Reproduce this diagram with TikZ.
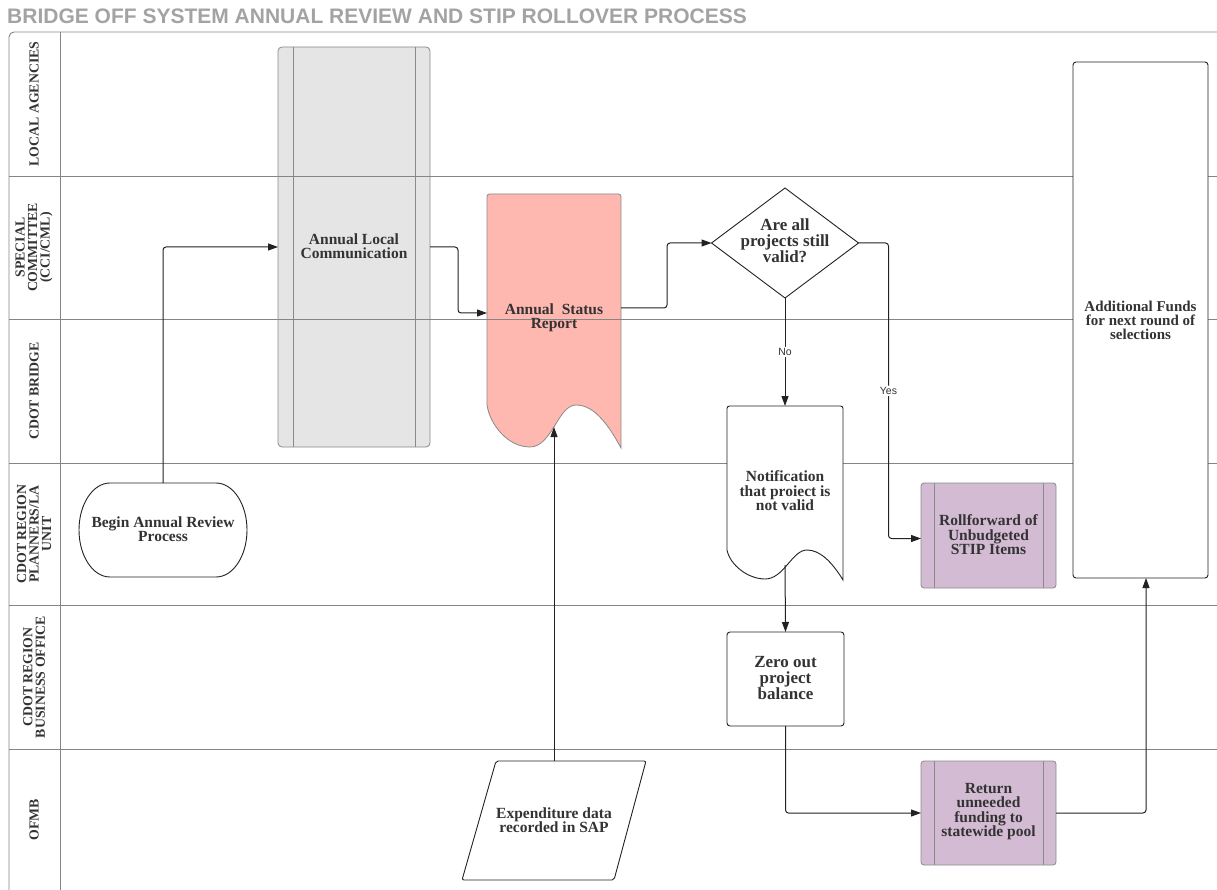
\documentclass[tikz,border=0pt]{standalone}
\usepackage{fontspec}
\setmainfont{Liberation Serif}
\newfontfamily\sansf{Liberation Sans}
\usetikzlibrary{arrows.meta,calc}
\definecolor{lanec}{HTML}{858585}
\definecolor{txt}{HTML}{333333}
\definecolor{grayfill}{HTML}{E5E5E5}
\definecolor{pinkfill}{HTML}{FEB8B0}
\definecolor{purplefill}{HTML}{D3BCD3}
\definecolor{titlec}{HTML}{A3A3A3}
\definecolor{linec}{HTML}{222222}
\definecolor{shapec}{HTML}{8A8A8A}
\begin{document}
\begin{tikzpicture}[x=1pt,y=-1pt,
  lane/.style={draw=lanec,line width=0.9pt},
  lanelbl/.style={rotate=90,align=center,font=\fontsize{13.8}{12.5}\selectfont\bfseries,text=txt,inner sep=0},
  ntext/.style={align=center,font=\fontsize{15.5}{14.5}\selectfont\bfseries,text=txt,inner sep=0},
  ntextbig/.style={align=center,font=\fontsize{17}{16}\selectfont\bfseries,text=txt,inner sep=0},
  box/.style={rectangle,inner sep=0,outer sep=0},
  conn/.style={draw=linec,line width=1pt,rounded corners=3pt,-{Triangle[length=10pt,width=7pt]}},
  lbl/.style={fill=white,font=\sansf\fontsize{10.5}{10.5}\selectfont,text=txt,inner sep=1.5pt},
  grayline/.style={draw=shapec,line width=0.8pt},
  darkline/.style={draw=linec,line width=0.9pt},
]
\useasboundingbox (0,0) rectangle (1217,890);
% title
\node[anchor=west,font=\sansf\bfseries\fontsize{21}{21}\selectfont,text=titlec,inner sep=0] (title) at (7,16) {BRIDGE OFF SYSTEM ANNUAL REVIEW AND STIP ROLLOVER PROCESS};

% shapes lying under the lane lines
\node[box,grayline,fill=grayfill,rounded corners=4pt,minimum width=152pt,minimum height=400pt] (alc) at (354,247) {};
\draw[grayline] ([xshift=15pt]alc.north west) -- ([xshift=15pt]alc.south west)
                ([xshift=-15pt]alc.north east) -- ([xshift=-15pt]alc.south east);
\node[box,minimum width=134pt,minimum height=254pt] (sr) at (554,321) {};
\draw[grayline,fill=pinkfill] (487,405) -- (487,200) [rounded corners=2.5pt] -- (487,194) -- (621,194) -- (621,200) [sharp corners] -- (621,448)
  .. controls (606,420) and (592,405) .. (576,405)
  .. controls (558,405) and (552,447) .. (530,447)
  .. controls (508,447) and (490,425) .. (487,405) -- cycle;

% pool and lanes
\draw[lane,rounded corners=5pt] (9,890) -- (9,32) -- (1217,32);
\draw[lane] (60,32) -- (60,890);
\foreach \yy in {176,319,463,605,749} \draw[lane] (9,\yy) -- (1217,\yy);
\node[lanelbl] (l1) at (34,104) {LOCAL AGENCIES};
\node[lanelbl] (l2) at (34,247.5) {SPECIAL\\COMMITTEE\\(CCI/CML)};
\node[lanelbl] (l3) at (34,391) {CDOT BRIDGE};
\node[lanelbl] (l4) at (34,534) {CDOT REGION\\PLANNERS/LA\\UNIT};
\node[lanelbl] (l5) at (34,677) {CDOT REGION\\BUSINESS OFFICE};
\node[lanelbl] (l6) at (34,819.5) {OFMB};

\node[ntext] (alct) at (354,246) {Annual Local\\Communication};
\node[ntext] (srt) at (554,318) {Annual\ \ Status\\Report};

% begin terminal
\node[box,minimum width=168pt,minimum height=94pt] (begin) at (163,530) {};
\draw[darkline,fill=white] (110,483) -- (216,483) .. controls (233.1,483) and (247,504) .. (247,530)
  .. controls (247,556) and (233.1,577) .. (216,577) -- (110,577)
  .. controls (92.9,577) and (79,556) .. (79,530) .. controls (79,504) and (92.9,483) .. (110,483) -- cycle;
\node[ntext] (begint) at (163,529) {Begin Annual Review\\Process};

% decision
\node[box,minimum width=147pt,minimum height=110pt] (dq) at (785,243) {};
\draw[darkline,fill=white] (dq.north) -- (dq.east) -- (dq.south) -- (dq.west) -- cycle;
\node[ntextbig] (dqt) at (785,241) {Are all\\projects still\\valid?};

% notification document
\node[box,minimum width=116pt,minimum height=174pt] (notif) at (785,493) {};
\draw[darkline,fill=white] (727,550) -- (727,412) [rounded corners=2.5pt] -- (727,406) -- (843,406) -- (843,412) [sharp corners] -- (843,580)
  .. controls (832,562) and (820,550) .. (807,550)
  .. controls (792,550) and (784,579) .. (765,579)
  .. controls (748,579) and (730,565) .. (727,550) -- cycle;
\node[ntext] (notift) at (785,491) {Notification\\that proiect is\\not valid};

% rollforward
\node[box,grayline,fill=purplefill,rounded corners=3pt,minimum width=135pt,minimum height=105pt] (rf) at (988.5,535.5) {};
\draw[grayline] ([xshift=13pt]rf.north west) -- ([xshift=13pt]rf.south west)
                ([xshift=-13pt]rf.north east) -- ([xshift=-13pt]rf.south east);
\node[ntext] (rft) at (988.5,535) {Rollforward of\\Unbudgeted\\STIP Items};

% zero out
\node[box,darkline,fill=white,rounded corners=3pt,minimum width=117pt,minimum height=94pt] (zero) at (785.5,679) {};
\node[ntextbig] (zerot) at (785.5,678) {Zero out\\project\\balance};

% return
\node[box,grayline,fill=purplefill,rounded corners=3pt,minimum width=135pt,minimum height=104pt] (ret) at (988.5,813) {};
\draw[grayline] ([xshift=13pt]ret.north west) -- ([xshift=13pt]ret.south west)
                ([xshift=-13pt]ret.north east) -- ([xshift=-13pt]ret.south east);
\node[ntext] (rett) at (988.5,811.5) {Return\\unneeded\\funding to\\statewide pool};

% additional funds
\node[box,darkline,fill=white,rounded corners=3pt,minimum width=135pt,minimum height=516pt] (add) at (1140.5,320) {};
\node[ntext,font=\fontsize{15}{14}\selectfont\bfseries] (addt) at (1140.5,320) {Additional Funds\\for next round of\\selections};

% expenditure data
\node[box,minimum width=150pt,minimum height=119pt] (exp) at (554,820.5) {};
\draw[darkline,fill=white,rounded corners=2pt] (496,761) -- (646,761) -- (614,880) -- (462,880) -- cycle;
\node[ntext] (expt) at (554,820) {Expenditure data\\recorded in SAP};

% connectors
\coordinate (nw) at (785,565);
\coordinate (srw) at (554,427);
\draw[conn] (begin.north) |- (alc.west);
\draw[conn] (alc.east) -- ++(28,0) |- ([yshift=8pt]sr.west);
\draw[conn] ([yshift=13pt]sr.east) -- ++(46,0) |- (dq.west);
\draw[conn] (dq.east) -- ++(30,0) |- node[lbl,pos=0.25] (yes) {Yes} ([yshift=-3pt]rf.west);
\draw[conn] (dq.south) -- node[lbl] (no) {No} (notif.north);
\draw[conn] (nw) -- (zero.north);
\draw[conn] (zero.south) |- (ret.west);
\draw[conn] (ret.east) -| ([xshift=5.5pt]add.south);
\draw[conn] (exp.north) -- (srw);
\end{tikzpicture}
\end{document}
